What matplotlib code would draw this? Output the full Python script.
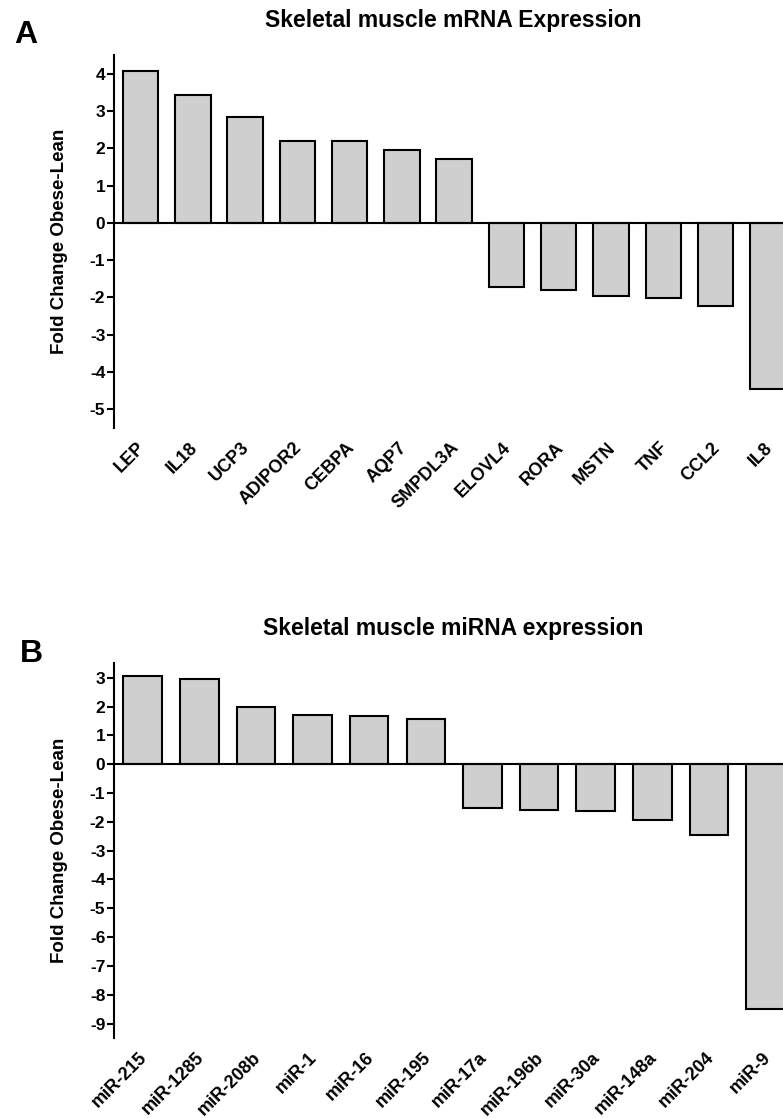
import matplotlib
matplotlib.use("Agg")
import matplotlib.pyplot as plt
from matplotlib.transforms import ScaledTranslation

plt.rcParams['font.family'] = ['Liberation Sans', 'DejaVu Sans']

# Panel A data
mrna_genes = ["LEP", "IL18", "UCP3", "ADIPOR2", "CEBPA", "AQP7", "SMPDL3A",
              "ELOVL4", "RORA", "MSTN", "TNF", "CCL2", "IL8"]
mrna_fc = [4.07, 3.43, 2.85, 2.2, 2.2, 1.96, 1.71,
           -1.73, -1.79, -1.96, -2.01, -2.22, -4.45]
mrna_yticks = [4, 3, 2, 1, 0, -1, -2, -3, -4, -5]

# Panel B data
mirna_names = ["miR-215", "miR-1285", "miR-208b", "miR-1", "miR-16", "miR-195",
               "miR-17a", "miR-196b", "miR-30a", "miR-148a", "miR-204", "miR-9"]
mirna_fc = [3.07, 2.94, 1.97, 1.72, 1.66, 1.57,
            -1.53, -1.58, -1.64, -1.93, -2.44, -8.5]
mirna_yticks = [3, 2, 1, 0, -1, -2, -3, -4, -5, -6, -7, -8, -9]

W, H = 783, 1118
fig = plt.figure(figsize=(W / 100, H / 100), dpi=100)

LW = 1.5
BAR_COLOR = "#cfcfcf"


def make_panel(rect, names, vals, yticks, ylim, title, title_y, letter, letter_x, letter_y):
    ax = fig.add_axes(rect)
    x = list(range(len(names)))
    ax.bar(x, vals, width=0.68, color=BAR_COLOR, edgecolor="black",
           linewidth=LW, zorder=2)
    ax.axhline(0, color="black", linewidth=LW, zorder=3)
    ax.set_xlim(-0.5, len(names) - 0.5)
    ax.set_ylim(*ylim)
    ax.set_yticks(yticks)
    ax.set_yticklabels([str(t) for t in yticks], fontsize=12.5, fontweight="bold")
    ax.tick_params(axis="y", direction="out", length=5, width=LW, pad=1.5)
    ax.set_xticks(x)
    ax.set_xticklabels(names, rotation=45, ha="right", va="top",
                       rotation_mode="anchor", fontsize=13,
                       fontweight="bold")
    ax.tick_params(axis="x", length=0, pad=8)
    shift = ScaledTranslation(-4 / 100, 0, fig.dpi_scale_trans)
    for lab in ax.get_xticklabels():
        lab.set_transform(lab.get_transform() + shift)
    for s in ["top", "right", "bottom"]:
        ax.spines[s].set_visible(False)
    ax.spines["left"].set_linewidth(LW)
    ax.patch.set_visible(False)
    bb_center = rect[1] + rect[3] / 2
    fig.text(60 / W, bb_center, "Fold Change Obese-Lean", rotation=90,
             ha="center", va="center", fontsize=13.5, fontweight="bold")
    fig.text(453 / W, 1 - title_y / H, title, ha="center", va="baseline",
             fontsize=16.5, fontweight="bold")
    fig.text(letter_x / W, 1 - letter_y / H, letter,
             ha="left", va="baseline", fontsize=23, fontweight="bold")
    return ax


left = 114.3 / W
width = (794 - 114.3) / W

make_panel([left, 1 - 428 / H, width, (428 - 55) / H],
           mrna_genes, mrna_fc, mrna_yticks, (-5.5, 4.5),
           "Skeletal muscle mRNA Expression", 27.5, "A", 14, 43)

make_panel([left, 1 - 1038 / H, width, (1038 - 663.3) / H],
           mirna_names, mirna_fc, mirna_yticks, (-9.5, 3.5),
           "Skeletal muscle miRNA expression", 635, "B", 20, 662)

fig.savefig("out.png", dpi=100)
